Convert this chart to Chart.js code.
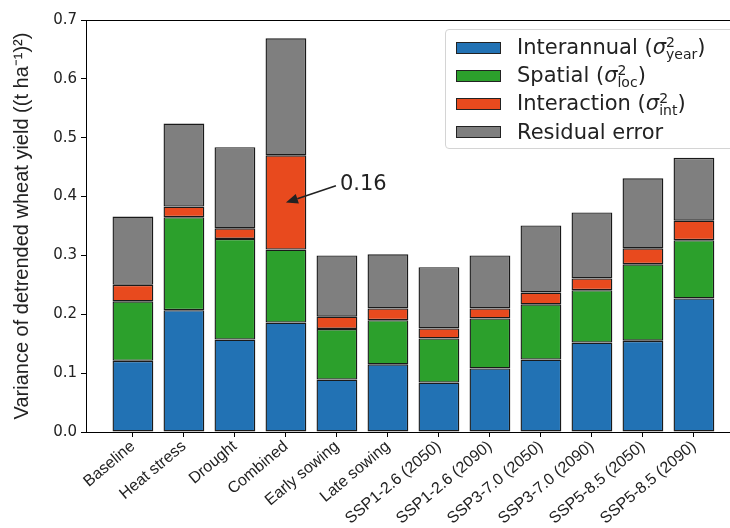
<!DOCTYPE html>
<html>
<head>
<meta charset="utf-8">
<script src="https://cdn.jsdelivr.net/npm/chart.js@4.4.1/dist/chart.umd.min.js"></script>
<style>
  html, body { margin: 0; padding: 0; background: #fff; }
  #wrap { position: relative; width: 730px; height: 528px; overflow: hidden; }
  #chart { position: absolute; left: 0; top: 0; }
  #legend {
    position: absolute; left: 445px; top: 29px; width: 300px; height: 118px;
    border: 1px solid #d4d4d4; border-radius: 4px; background: rgba(255, 255, 255, 0.85);
    font-family: 'DejaVu Sans'; font-size: 21px; color: #222;
  }
  #legend .row { position: absolute; left: 0; height: 28px; display: flex; align-items: center; white-space: nowrap; }
  #legend .sw { flex: none; width: 45px; height: 12px; margin-left: 10px; margin-right: 16px; border: 1px solid #222; box-sizing: border-box; }
  #legend .lt { line-height: 1; }
  #legend .ss { display: inline-block; font-size: 14px; line-height: 12px; vertical-align: -5px; }
  #legend .ss span { display: block; }
</style>
</head>
<body>
<div id="wrap">
  <canvas id="chart" width="760" height="528"></canvas>
  <div id="legend"></div>
</div>
<script>
const categories = ['Baseline', 'Heat stress', 'Drought', 'Combined', 'Early sowing', 'Late sowing',
  'SSP1-2.6 (2050)', 'SSP1-2.6 (2090)', 'SSP3-7.0 (2050)', 'SSP3-7.0 (2090)', 'SSP5-8.5 (2050)', 'SSP5-8.5 (2090)'];

// variance components, (t/ha)^2
const interannual = [0.121, 0.207, 0.157, 0.186, 0.089, 0.115, 0.084, 0.108, 0.123, 0.152, 0.155, 0.227];
const spatial     = [0.101, 0.158, 0.171, 0.124, 0.086, 0.075, 0.075, 0.085, 0.094, 0.089, 0.130, 0.099];
const interaction = [0.028, 0.018, 0.018, 0.160, 0.021, 0.020, 0.017, 0.017, 0.020, 0.020, 0.027, 0.033];
const residual    = [0.116, 0.141, 0.138, 0.199, 0.104, 0.092, 0.104, 0.090, 0.114, 0.112, 0.119, 0.107];

const yTicks = [0, 0.1, 0.2, 0.3, 0.4, 0.5, 0.6, 0.7];

const components = [
  { name: 'Interannual', sub: 'year', color: '#2272b4', data: interannual },
  { name: 'Spatial', sub: 'loc', color: '#2ca02c', data: spatial },
  { name: 'Interaction', sub: 'int', color: '#e84a1e', data: interaction },
  { name: 'Residual error', sub: null, color: '#7f7f7f', data: residual }
];

// box around the plot area
const frame = {
  id: 'frame',
  afterDatasetsDraw(chart) {
    const a = chart.chartArea;
    const ctx = chart.ctx;
    ctx.save();
    ctx.strokeStyle = '#000';
    ctx.lineWidth = 1;
    ctx.strokeRect(Math.round(a.left) + 0.5, Math.round(a.top) + 0.5, a.right - a.left, a.bottom - a.top);
    ctx.restore();
  }
};

// arrow pointing at the interaction share of the combined scenario
const annotate = {
  id: 'annotate',
  afterDatasetsDraw(chart) {
    const { ctx, scales: { x, y } } = chart;
    const i = categories.indexOf('Combined');
    const tx = x.getPixelForValue(i);
    const ty = y.getPixelForValue(interannual[i] + spatial[i] + interaction[i] / 2);
    const lx = x.getPixelForValue(i + 1);
    const ly = y.getPixelForValue(0.42);
    ctx.save();
    ctx.font = '21px "DejaVu Sans"';
    ctx.fillStyle = '#222';
    ctx.textAlign = 'left';
    ctx.textBaseline = 'middle';
    ctx.fillText(interaction[i].toFixed(2), lx + 3, ly);

    const sx = lx - 1, sy = ly + 1;
    const ang = Math.atan2(ty - sy, tx - sx);
    const hl = 12, hw = 5;
    const bx = tx - hl * Math.cos(ang), by = ty - hl * Math.sin(ang);
    ctx.strokeStyle = '#222';
    ctx.lineWidth = 1.6;
    ctx.beginPath();
    ctx.moveTo(sx, sy);
    ctx.lineTo(bx, by);
    ctx.stroke();
    ctx.beginPath();
    ctx.moveTo(tx, ty);
    ctx.lineTo(bx + hw * Math.sin(ang), by - hw * Math.cos(ang));
    ctx.lineTo(bx - hw * Math.sin(ang), by + hw * Math.cos(ang));
    ctx.closePath();
    ctx.fill();
    ctx.restore();
  }
};

const chart = new Chart(document.getElementById('chart'), {
  type: 'bar',
  data: {
    datasets: components.map(c => ({
      label: c.name,
      data: c.data.map((v, i) => ({ x: i, y: v })),
      backgroundColor: c.color,
      borderColor: '#1a1a1a',
      borderWidth: 1.4,
      borderSkipped: false,
      barPercentage: 0.8,
      categoryPercentage: 1.0
    }))
  },
  options: {
    responsive: false,
    animation: false,
    devicePixelRatio: 1,
    layout: { padding: { top: 20, right: 12, left: 0, bottom: 0 } },
    plugins: { legend: { display: false }, tooltip: { enabled: false } },
    scales: {
      x: {
        type: 'linear',
        stacked: true,
        offset: false,
        min: -0.92,
        max: 12.06,
        afterBuildTicks: s => { s.ticks = categories.map((c, i) => ({ value: i })); },
        afterFit: s => { s.height = 96; },
        grid: { offset: false, drawOnChartArea: false, drawTicks: true, tickLength: 5, color: '#000' },
        border: { display: true, color: '#000', width: 1 },
        ticks: {
          autoSkip: false,
          minRotation: 40,
          maxRotation: 40,
          padding: 0,
          color: '#222',
          font: { family: 'Liberation Sans', size: 16 },
          callback: v => categories[v]
        }
      },
      y: {
        stacked: true,
        min: 0,
        max: 0.7,
        afterBuildTicks: s => { s.ticks = yTicks.map(v => ({ value: v })); },
        afterFit: s => { s.width = 86; },
        grid: { drawOnChartArea: false, drawTicks: true, tickLength: 5, color: '#000' },
        border: { display: true, color: '#000', width: 1 },
        ticks: {
          padding: 4,
          color: '#222',
          font: { family: 'DejaVu Sans', size: 15 },
          callback: v => v.toFixed(1)
        },
        title: {
          display: true,
          text: 'Variance of detrended wheat yield ((t ha\u207B\u00B9)\u00B2)',
          color: '#222',
          font: { family: 'Liberation Sans', size: 20 },
          padding: { top: 10, bottom: 0 }
        }
      }
    }
  },
  plugins: [frame, annotate]
});

// legend with stacked super/subscripts, built from the datasets
const legend = document.getElementById('legend');
chart.data.datasets.forEach((ds, k) => {
  const c = components[k];
  const row = document.createElement('div');
  row.className = 'row';
  row.style.top = (4 + k * 28) + 'px';
  const sw = document.createElement('span');
  sw.className = 'sw';
  sw.style.background = ds.backgroundColor;
  const txt = document.createElement('span');
  txt.className = 'lt';
  txt.innerHTML = c.sub
    ? ds.label + ' (<i>\u03C3</i><span class="ss"><span>2</span><span>' + c.sub + '</span></span>)'
    : ds.label;
  row.appendChild(sw);
  row.appendChild(txt);
  legend.appendChild(row);
});
</script>
</body>
</html>
